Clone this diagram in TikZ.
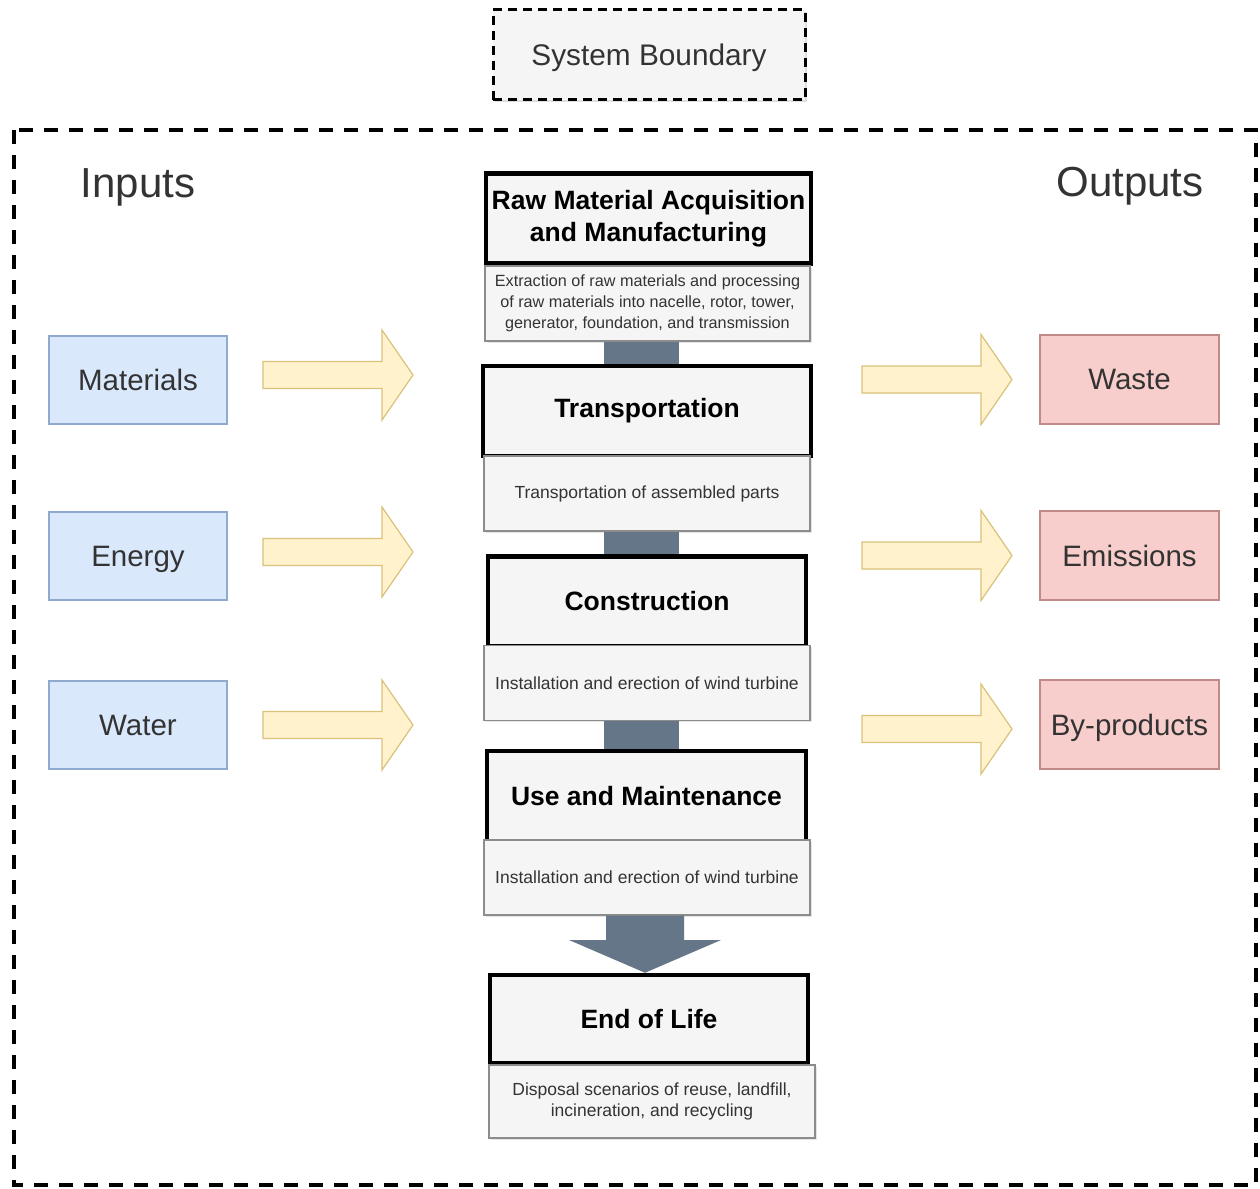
\documentclass[tikz,border=0pt]{standalone}
\usepackage{fontspec}
\setmainfont{Liberation Sans}
\usetikzlibrary{shadows}

\definecolor{panelfill}{HTML}{F5F5F5}
\definecolor{panelline}{HTML}{8C8C8C}
\definecolor{softtext}{HTML}{333333}
\definecolor{infill}{HTML}{DAE8FC}
\definecolor{inline}{HTML}{8FA9CF}
\definecolor{outfill}{HTML}{F8CECC}
\definecolor{outline}{HTML}{C08A88}
\definecolor{flowfill}{HTML}{FFF2CC}
\definecolor{flowline}{HTML}{D9C27A}
\definecolor{barfill}{HTML}{647687}

\tikzset{
  legendbox/.style={draw=black, line width=3pt, dash pattern=on 9pt off 6pt,
    fill=panelfill, minimum width=312pt, minimum height=90pt, text depth=0pt,
    font=\fontsize{29.8}{34}\selectfont, text=softtext,
    drop shadow={shadow xshift=2pt, shadow yshift=-2pt, opacity=.25}},
  heading/.style={font=\fontsize{42}{48}\selectfont, text=softtext, text depth=0pt},
  inbox/.style={draw=inline, line width=1.2pt, fill=infill,
    minimum width=178pt, minimum height=88pt, text depth=0pt,
    font=\fontsize{29.5}{32}\selectfont, text=softtext},
  outbox/.style={draw=outline, line width=1.2pt, fill=outfill,
    minimum width=179pt, minimum height=89pt, text depth=0pt,
    font=\fontsize{29.5}{32}\selectfont, text=softtext},
  stagebox/.style={draw=black, line width=4.5pt, fill=panelfill,
    minimum height=90pt, align=center, inner sep=0pt,
    font=\fontsize{26.5}{32}\selectfont\bfseries,
    drop shadow={shadow xshift=2pt, shadow yshift=-2pt, opacity=.3}},
  notebox/.style={draw=panelline, line width=1.2pt, fill=panelfill,
    minimum width=326pt, minimum height=75pt, align=center, inner sep=0pt,
    font=\fontsize{17.5}{21}\selectfont, text=softtext,
    drop shadow={shadow xshift=1.5pt, shadow yshift=-1.5pt, opacity=.2}},
  bar/.style={fill=barfill},
  fatarrow/.pic={
    \draw[fill=flowfill, draw=flowline, line width=1.2pt, line join=miter]
      (0,-13.5) -- (119,-13.5) -- (119,-45) -- (150,0) -- (119,45)
      -- (119,13.5) -- (0,13.5) -- cycle;
  }
}

\begin{document}
\begin{tikzpicture}[x=1pt, y=-1pt]
\useasboundingbox[fill=white] (0,0) rectangle (1260,1188);

% legend and system boundary
\node[legendbox] (legend) at (649,55) {System Boundary};
\draw[line width=4pt, dash pattern=on 14pt off 11pt]
  (14,130) rectangle (1256,1185);

\node[heading] (inputs) at (138,183) {Inputs};
\node[heading] (outputs) at (1130,182) {Outputs};

% inputs
\node[inbox] (materials) at (138,380) {Materials};
\node[inbox] (energy) at (138,556) {Energy};
\node[inbox] (water) at (138,725) {Water};

% outputs
\node[outbox] (waste) at (1129.5,379.5) {Waste};
\node[outbox] (emissions) at (1129.5,555.5) {Emissions};
\node[outbox] (byproducts) at (1129.5,724.5) {By-products};

% flow arrows
\pic at (263,375) {fatarrow};
\pic at (263,552) {fatarrow};
\pic at (263,725) {fatarrow};
\pic at (862,379.5) {fatarrow};
\pic at (862,555.5) {fatarrow};
\pic at (862,729) {fatarrow};

% life-cycle stages
\node[stagebox, minimum width=325pt] (s1) at (648.5,218.5)
  {Raw Material Acquisition\\and Manufacturing};
\node[notebox, minimum width=325pt, font=\fontsize{16.2}{21}\selectfont] (n1) at (647.5,303.5)
  {Extraction of raw materials and processing\\of raw materials into nacelle, rotor, tower,\\generator, foundation, and transmission};

\node[stagebox, minimum width=328pt] (s2) at (647,411) {Transportation};
\node[notebox] (n2) at (647,493.5) {Transportation of assembled parts};

\node[stagebox, minimum width=318pt] (s3) at (647,601.5) {Construction};
\node[notebox] (n3) at (647,683) {Installation and erection of wind turbine};

\node[stagebox, minimum width=319pt] (s4) at (646.5,796) {Use and Maintenance};
\node[notebox] (n4) at (647,877.5) {Installation and erection of wind turbine};

\node[stagebox, minimum width=318pt, minimum height=88pt] (s5) at (649,1019) {End of Life};
\node[notebox, minimum height=73pt] (n5) at (652,1101.5)
  {Disposal scenarios of reuse, landfill,\\incineration, and recycling};

% links between stages
\fill[bar] (604,0 |- n1.south) rectangle (679,0 |- s2.north);
\fill[bar] (604,0 |- n2.south) rectangle (679,0 |- s3.north);
\fill[bar] (604,0 |- n3.south) rectangle (679,0 |- s4.north);
\fill[bar] (606,0 |- n4.south) -- (606,940) -- (569,940) -- (645,0 |- s5.north)
  -- (721,940) -- (684,940) -- (684,0 |- n4.south) -- cycle;
\end{tikzpicture}
\end{document}
